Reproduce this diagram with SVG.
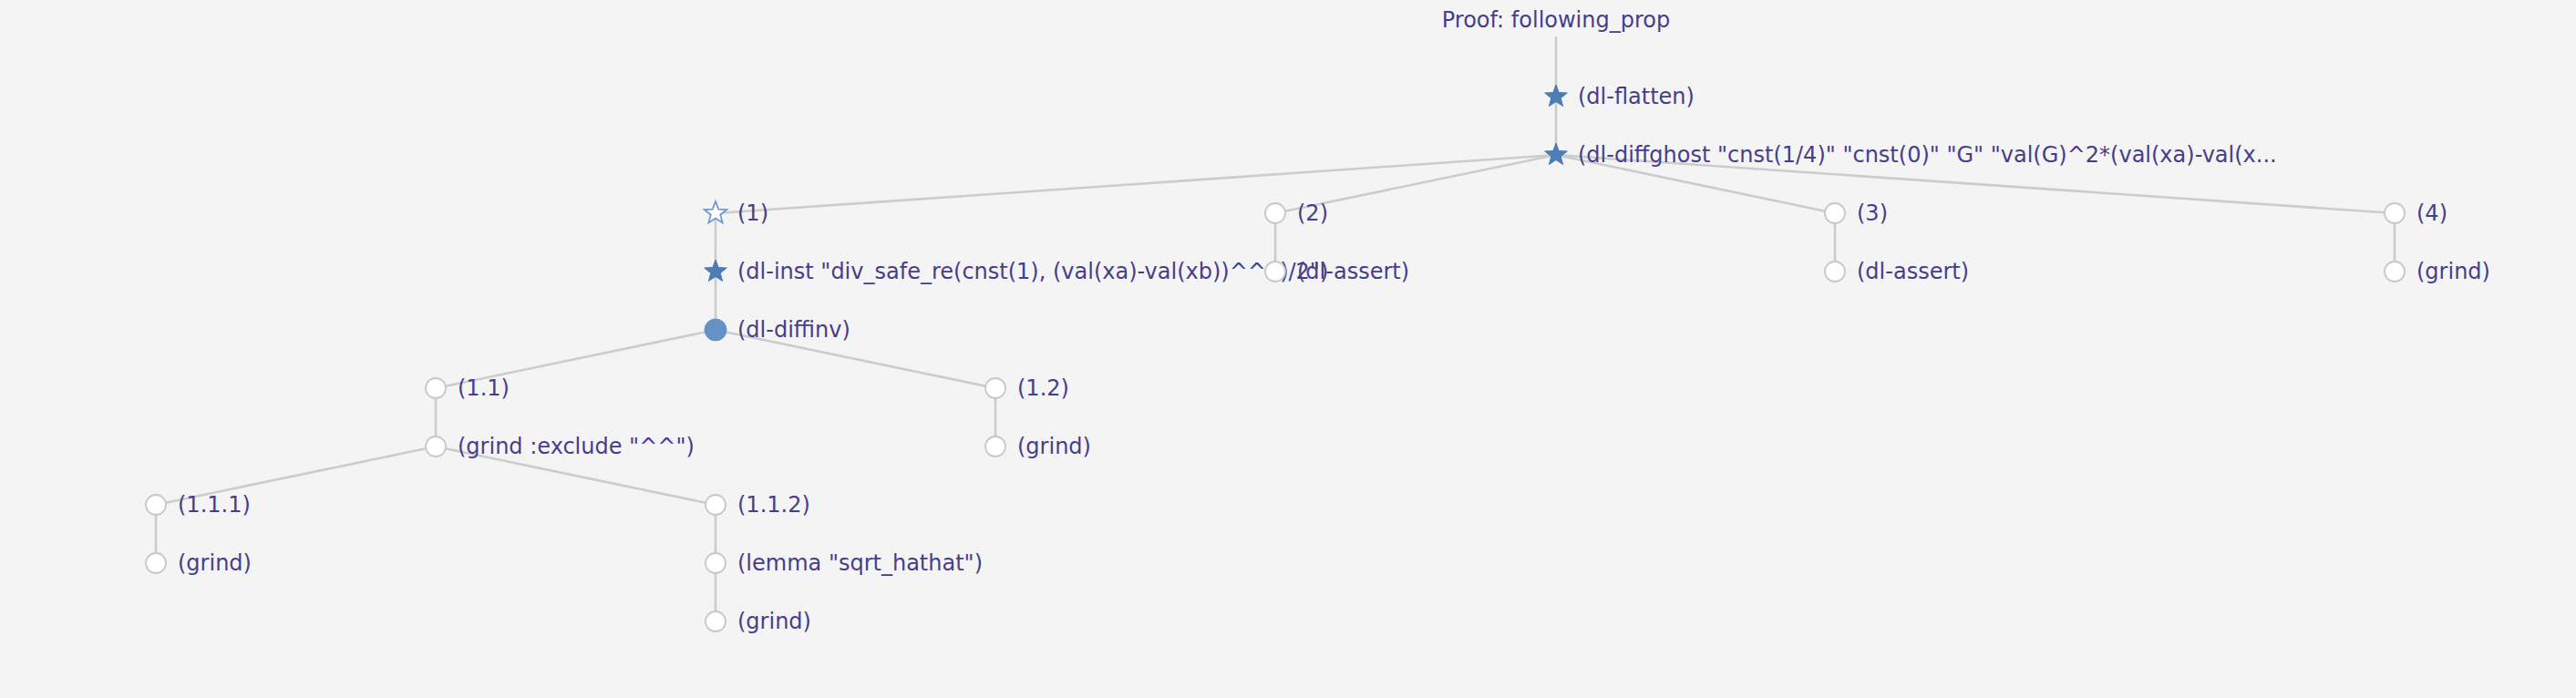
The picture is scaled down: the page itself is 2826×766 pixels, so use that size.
<svg xmlns="http://www.w3.org/2000/svg" width="2826" height="766" viewBox="0 0 2826 766">
<style>
text{font-family:"DejaVu Sans","Liberation Sans",sans-serif;font-size:24px;fill:#483d8b}
.e{stroke:#cccccc;stroke-width:2.6;fill:none}
.c{fill:#ffffff;stroke:#c8c8c8;stroke-width:1.8}
.cf{fill:#6592c4;stroke:#6592c4;stroke-width:1}
.sf{fill:#4d7db5;stroke:#4d7db5;stroke-width:1}
.so{fill:#ffffff;stroke:#6f9ad0;stroke-width:1.8}
</style>
<defs>
<path id="star" d="M0,-13 L3.23,-4.45 L12.36,-4.02 L5.23,1.7 L7.64,10.52 L0,5.5 L-7.64,10.52 L-5.23,1.7 L-12.36,-4.02 L-3.23,-4.45 Z"/>
</defs>
<rect width="2826" height="766" fill="#f4f4f4"/>
<g id="connectors">
<line class="e" x1="1707" y1="40" x2="1707" y2="106"/>
<line class="e" x1="1707" y1="106" x2="1707" y2="170"/>
<line class="e" x1="1707" y1="170" x2="785" y2="234"/>
<line class="e" x1="1707" y1="170" x2="1399" y2="234"/>
<line class="e" x1="1707" y1="170" x2="2013" y2="234"/>
<line class="e" x1="1707" y1="170" x2="2627" y2="234"/>
<line class="e" x1="785" y1="234" x2="785" y2="298"/>
<line class="e" x1="785" y1="298" x2="785" y2="362"/>
<line class="e" x1="785" y1="362" x2="478" y2="426"/>
<line class="e" x1="785" y1="362" x2="1092" y2="426"/>
<line class="e" x1="478" y1="426" x2="478" y2="490"/>
<line class="e" x1="478" y1="490" x2="171" y2="554"/>
<line class="e" x1="478" y1="490" x2="785" y2="554"/>
<line class="e" x1="171" y1="554" x2="171" y2="618"/>
<line class="e" x1="785" y1="554" x2="785" y2="618"/>
<line class="e" x1="785" y1="618" x2="785" y2="682"/>
<line class="e" x1="1092" y1="426" x2="1092" y2="490"/>
<line class="e" x1="1399" y1="234" x2="1399" y2="298"/>
<line class="e" x1="2013" y1="234" x2="2013" y2="298"/>
<line class="e" x1="2627" y1="234" x2="2627" y2="298"/>
</g>
<g id="root"><text x="1707" y="30" text-anchor="middle">Proof: following_prop</text></g>
<g id="n_flatten"><use href="#star" class="sf" x="1707" y="106"/><text x="1731" y="114">(dl-flatten)</text></g>
<g id="n_diffghost"><use href="#star" class="sf" x="1707" y="170"/><text x="1731" y="178">(dl-diffghost "cnst(1/4)" "cnst(0)" "G" "val(G)^2*(val(xa)-val(x...</text></g>
<g id="n1"><use href="#star" class="so" x="785" y="234"/><text x="809" y="242">(1)</text></g>
<g id="n1_inst"><use href="#star" class="sf" x="785" y="298"/><text x="809" y="306">(dl-inst "div_safe_re(cnst(1), (val(xa)-val(xb))^^2)/2")</text></g>
<g id="n1_diffinv"><circle class="cf" cx="785" cy="362" r="12"/><text x="809" y="370">(dl-diffinv)</text></g>
<g id="n11"><circle class="c" cx="478" cy="426" r="11"/><text x="502" y="434">(1.1)</text></g>
<g id="n11_grind"><circle class="c" cx="478" cy="490" r="11"/><text x="502" y="498">(grind :exclude "^^")</text></g>
<g id="n111"><circle class="c" cx="171" cy="554" r="11"/><text x="195" y="562">(1.1.1)</text></g>
<g id="n111_grind"><circle class="c" cx="171" cy="618" r="11"/><text x="195" y="626">(grind)</text></g>
<g id="n112"><circle class="c" cx="785" cy="554" r="11"/><text x="809" y="562">(1.1.2)</text></g>
<g id="n112_lemma"><circle class="c" cx="785" cy="618" r="11"/><text x="809" y="626">(lemma "sqrt_hathat")</text></g>
<g id="n112_grind"><circle class="c" cx="785" cy="682" r="11"/><text x="809" y="690">(grind)</text></g>
<g id="n12"><circle class="c" cx="1092" cy="426" r="11"/><text x="1116" y="434">(1.2)</text></g>
<g id="n12_grind"><circle class="c" cx="1092" cy="490" r="11"/><text x="1116" y="498">(grind)</text></g>
<g id="n2"><circle class="c" cx="1399" cy="234" r="11"/><text x="1423" y="242">(2)</text></g>
<g id="n2_assert"><circle class="c" cx="1399" cy="298" r="11"/><text x="1423" y="306">(dl-assert)</text></g>
<g id="n3"><circle class="c" cx="2013" cy="234" r="11"/><text x="2037" y="242">(3)</text></g>
<g id="n3_assert"><circle class="c" cx="2013" cy="298" r="11"/><text x="2037" y="306">(dl-assert)</text></g>
<g id="n4"><circle class="c" cx="2627" cy="234" r="11"/><text x="2651" y="242">(4)</text></g>
<g id="n4_grind"><circle class="c" cx="2627" cy="298" r="11"/><text x="2651" y="306">(grind)</text></g>
</svg>
